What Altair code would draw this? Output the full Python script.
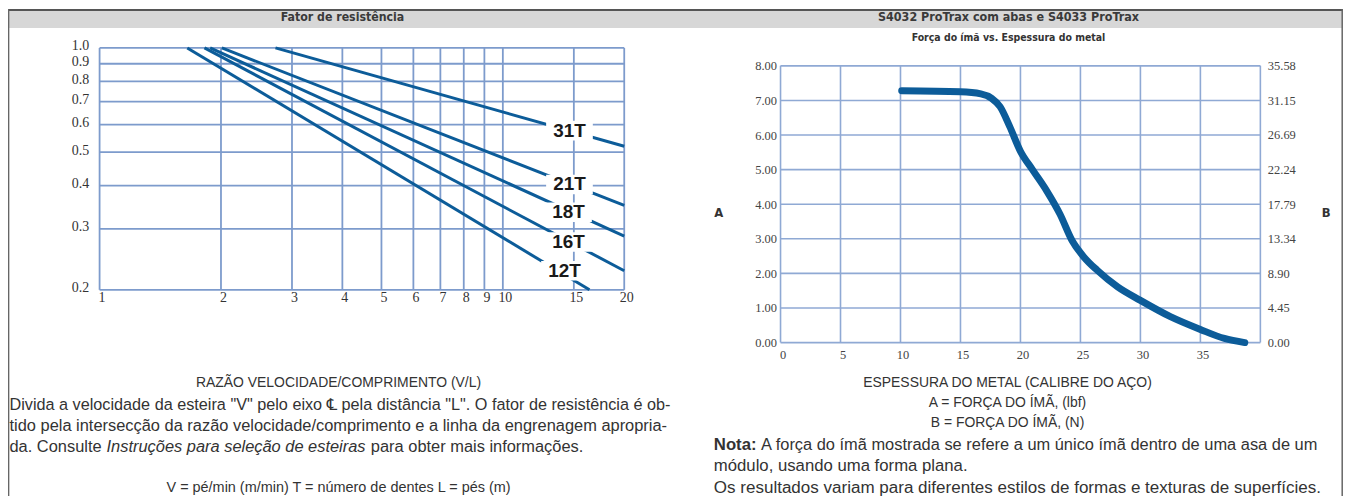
import altair as alt
import pandas as pd

# ---------------- data: left chart (Fator de resistência) ----------------
gears = ["12T", "16T", "18T", "21T", "31T"]
vl_start = [1.65, 1.82, 1.88, 2.01, 2.73]
fr_start = [1.0, 1.0, 1.0, 1.0, 1.0]
vl_end = [16.4, 20.0, 20.0, 20.0, 20.0]
fr_end = [0.2, 0.227, 0.286, 0.351, 0.520]
label_vl = [14.22, 14.55, 14.55, 14.63, 14.63]
label_fr = [0.227, 0.275, 0.335, 0.403, 0.577]
x_ticks_left = [1, 2, 3, 4, 5, 6, 7, 8, 9, 10, 15, 20]
y_ticks_left = [0.2, 0.3, 0.4, 0.5, 0.6, 0.7, 0.8, 0.9, 1.0]

# ---------------- data: right chart (Força do ímã) ----------------
gauge = [10.1, 15.0, 16.7, 17.6, 18.3, 19.1, 20.0, 21.0, 22.2, 23.3, 24.3,
         25.3, 26.4, 28.1, 30.0, 32.5, 35.0, 37.0, 38.7]
force_lbf = [7.28, 7.25, 7.19, 7.06, 6.82, 6.25, 5.53, 5.0, 4.38, 3.71, 2.95,
             2.47, 2.09, 1.61, 1.22, 0.75, 0.38, 0.12, 0.0]
x_ticks_right = [0, 5, 10, 15, 20, 25, 30, 35, 40]
y_ticks_a = [0, 1, 2, 3, 4, 5, 6, 7, 8]
y_ticks_b = [0.00, 4.45, 8.90, 13.34, 17.79, 22.24, 26.69, 31.15, 35.58]

# ---------------- layout constants ----------------
W, H = 1341, 489
SERIF = "Liberation Serif, Times New Roman, serif"
SANS = "Liberation Sans, Arial, DejaVu Sans, sans-serif"
NARROW = "DejaVu Sans Condensed, Liberation Sans Narrow, Liberation Sans, sans-serif"
LINE_C = "#0c5c99"
GRID_L = "#7d9bcc"
GRID_R = "#8fa9d4"

one = pd.DataFrame({"k": [0]})

# ---------------- left chart ----------------
xs_l = alt.Scale(type="log", domain=[1, 20], range=[92, 619], nice=False)
ys_l = alt.Scale(type="log", domain=[0.2, 1.0], range=[282, 39], nice=False)

lines_rows = []
for g, a, b, c, d in zip(gears, vl_start, fr_start, vl_end, fr_end):
    lines_rows.append({"gear": g, "vl": a, "fr": b, "o": 0})
    lines_rows.append({"gear": g, "vl": c, "fr": d, "o": 1})
lines_df = pd.DataFrame(lines_rows)
labels_df = pd.DataFrame({"gear": gears, "vl": label_vl, "fr": label_fr})
vgrid_l = pd.DataFrame({"v": x_ticks_left})
hgrid_l = pd.DataFrame({"v": y_ticks_left})

left_vgrid = alt.Chart(vgrid_l).mark_rule(color=GRID_L, strokeWidth=1.8).encode(
    x=alt.X("v:Q", scale=xs_l, axis=alt.Axis(
        orient="bottom", offset=-(H - 282), values=x_ticks_left, format="d",
        domain=False, ticks=False, tickSize=0, grid=False, title=None,
        labelFont=SERIF, labelFontSize=14, labelColor="#333", labelPadding=1,
        labelOverlap=False, labelFlush=False, labelBaseline="top", labelOffset=2)),
    y=alt.YDatum(0.2, scale=ys_l, axis=None),
    y2=alt.Y2Datum(1.0),
)
left_hgrid = alt.Chart(hgrid_l).mark_rule(color=GRID_L, strokeWidth=1.8).encode(
    y=alt.Y("v:Q", scale=ys_l, axis=alt.Axis(
        orient="left", offset=-92, values=y_ticks_left, format=".1f",
        domain=False, ticks=False, tickSize=0, grid=False, title=None,
        labelFont=SERIF, labelFontSize=14, labelColor="#333", labelPadding=11,
        labelOverlap=False, labelFlush=False, labelOffset=-2)),
    x=alt.XDatum(1, scale=xs_l, axis=None),
    x2=alt.X2Datum(20),
)
left_lines = alt.Chart(lines_df).mark_line(color=LINE_C, strokeWidth=3).encode(
    x=alt.X("vl:Q", scale=xs_l, axis=None),
    y=alt.Y("fr:Q", scale=ys_l, axis=None),
    detail="gear:N",
    order="o:Q",
)
box_shape = "M-1,-0.42L1,-0.42L1,0.42L-1,0.42Z"
left_boxes = alt.Chart(labels_df).mark_point(
    shape=box_shape, filled=True, color="white", opacity=1, size=2200, strokeWidth=0
).encode(
    x=alt.X("vl:Q", scale=xs_l, axis=None),
    y=alt.Y("fr:Q", scale=ys_l, axis=None),
)
left_labels = alt.Chart(labels_df).mark_text(
    font=SANS, fontWeight="bold", fontSize=19, color="#1a1a1a", baseline="middle", align="center"
).encode(
    x=alt.X("vl:Q", scale=xs_l, axis=None),
    y=alt.Y("fr:Q", scale=ys_l, axis=None),
    text="gear:N",
)

# ---------------- right chart ----------------
xs_r = alt.Scale(domain=[0, 40], range=[776, 1258], nice=False, zero=False)
ys_a = alt.Scale(domain=[0, 8], range=[335, 57], nice=False, zero=False)
ys_b = alt.Scale(domain=[0, 35.58], range=[335, 57], nice=False, zero=False)

curve_df = pd.DataFrame({"gauge": gauge, "lbf": force_lbf})
vgrid_r = pd.DataFrame({"v": x_ticks_right})
hgrid_r = pd.DataFrame({"v": y_ticks_a})
b_df = pd.DataFrame({"b": y_ticks_b})

right_vgrid = alt.Chart(vgrid_r).mark_rule(color=GRID_R, strokeWidth=1.6).encode(
    x=alt.X("v:Q", scale=xs_r, axis=alt.Axis(
        orient="bottom", offset=-(H - 335), values=x_ticks_right[:-1], format="d",
        domain=False, ticks=False, tickSize=0, grid=False, title=None,
        labelFont=SERIF, labelFontSize=12.5, labelColor="#444", labelPadding=6,
        labelOverlap=False, labelFlush=False, labelBaseline="top", labelOffset=2)),
    y=alt.YDatum(0, scale=ys_a, axis=None),
    y2=alt.Y2Datum(8),
)
right_hgrid = alt.Chart(hgrid_r).mark_rule(color=GRID_R, strokeWidth=1.6).encode(
    y=alt.Y("v:Q", scale=ys_a, axis=alt.Axis(
        orient="left", offset=-776, values=y_ticks_a, format=".2f",
        domain=False, ticks=False, tickSize=0, grid=False, title=None,
        labelFont=SERIF, labelFontSize=12.5, labelColor="#444", labelPadding=4,
        labelOverlap=False, labelFlush=False)),
    x=alt.XDatum(0, scale=xs_r, axis=None),
    x2=alt.X2Datum(40),
)
right_curve = alt.Chart(curve_df).mark_line(
    color=LINE_C, strokeWidth=7, strokeCap="round", interpolate="monotone"
).encode(
    x=alt.X("gauge:Q", scale=xs_r, axis=None),
    y=alt.Y("lbf:Q", scale=ys_a, axis=None),
)
right_b = alt.Chart(b_df).mark_point(opacity=0).encode(
    x=alt.value(1258),
    y=alt.Y("b:Q", scale=ys_b, axis=alt.Axis(
        orient="right", offset=-(W - 1258), values=y_ticks_b, format=".2f",
        domain=False, ticks=False, tickSize=0, grid=False, title=None,
        labelFont=SERIF, labelFontSize=12.5, labelColor="#444", labelPadding=7,
        labelOverlap=False, labelFlush=False)),
)

# ---------------- decorations and texts ----------------
def rect(x1, x2, y1, y2, color):
    return alt.Chart(one).mark_rect(color=color).encode(
        x=alt.value(x1), x2=alt.value(x2), y=alt.value(y1), y2=alt.value(y2))


def rule(x1, x2, y1, y2, color, width):
    return alt.Chart(one).mark_rule(color=color, strokeWidth=width).encode(
        x=alt.value(x1), x2=alt.value(x2), y=alt.value(y1), y2=alt.value(y2))


def txt(s, x, y, size=14, weight="normal", style="normal", align="center",
        font=SANS, color="#333"):
    return alt.Chart(one).mark_text(
        text=s, fontSize=size, fontWeight=weight, fontStyle=style, align=align,
        baseline="middle", font=font, color=color
    ).encode(x=alt.value(x), y=alt.value(y))


decor = [
    rect(0, W, 0, 19, "#d7d7d7"),
    rule(0, W, 0.8, 0.8, "#555555", 2),
    rule(0.6, 0.6, 0, H, "#666666", 1.5),
    rule(W - 0.8, W - 0.8, 0, H, "#666666", 1.5),
]

P = 16.5   # left paragraph size
R = 16.8   # right paragraph size
texts = [
    txt("Fator de resistência", 336, 8, size=12.3, weight="bold", font=NARROW, color="#3a3a3a"),
    txt("S4032 ProTrax com abas e S4033 ProTrax", 1005, 8, size=12.5, weight="bold", font=NARROW, color="#3a3a3a"),
    txt("Força do ímã vs. Espessura do metal", 1005, 29, size=10.5, weight="bold", font=NARROW, color="#333"),
    txt("A", 714, 205, size=13, weight="bold", font=NARROW, color="#333"),
    txt("B", 1324, 205, size=13, weight="bold", font=NARROW, color="#333"),
    # left text block
    txt("RAZÃO VELOCIDADE/COMPRIMENTO (V/L)", 332, 376, size=14),
    txt('Divida a velocidade da esteira "V" pelo eixo \u2104 pela distância "L". O fator de resistência é ob-',
        1.5, 398, size=P - 0.2, align="left"),
    txt("tido pela intersecção da razão velocidade/comprimento e a linha da engrenagem apropria-",
        1.5, 419, size=P, align="left"),
    txt("da. Consulte", 1.5, 440, size=P, align="left"),
    txt("Instruções para seleção de esteiras", 99, 440, size=P, style="italic", align="left"),
    txt("para obter mais informações.", 364.5, 440, size=P, align="left"),
    txt("V = pé/min (m/min) T = número de dentes L = pés (m)", 332, 481, size=14.5),
    # right text block
    txt("ESPESSURA DO METAL (CALIBRE DO AÇO)", 1004, 376, size=14),
    txt("A = FORÇA DO ÍMÃ, (lbf)", 1004, 396, size=14),
    txt("B = FORÇA DO ÍMÃ, (N)", 1004, 416, size=14),
    txt("Nota:", 709, 438, size=R, weight="bold", align="left"),
    txt("A força do ímã mostrada se refere a um único ímã dentro de uma asa de um",
        756.5, 438, size=R - 0.3, align="left"),
    txt("módulo, usando uma forma plana.", 709, 459, size=R, align="left"),
    txt("Os resultados variam para diferentes estilos de formas e texturas de superfícies.",
        709, 481, size=R + 0.3, align="left"),
]

chart = alt.layer(
    *decor,
    left_vgrid, left_hgrid, left_lines, left_boxes, left_labels,
    right_vgrid, right_hgrid, right_curve, right_b,
    *texts
).resolve_scale(
    x="independent", y="independent"
).properties(
    width=W, height=H, padding=0,
    autosize=alt.AutoSizeParams(type="none"),
    background="white",
).configure_view(strokeWidth=0)

chart.save("out.html", embed_options={"renderer": "svg", "actions": False})
